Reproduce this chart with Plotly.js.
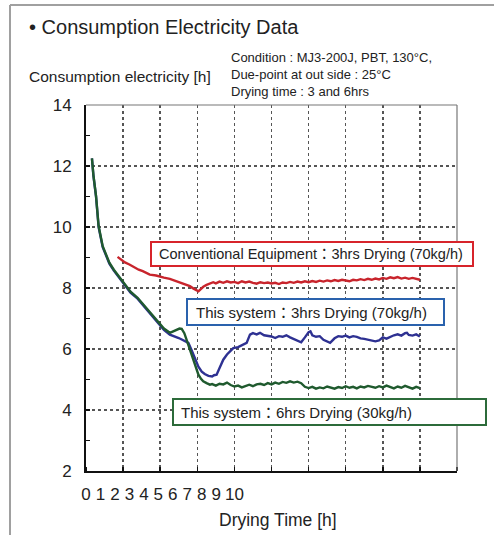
<!DOCTYPE html>
<html>
<head>
<meta charset="utf-8">
<script src="https://cdn.plot.ly/plotly-3.0.1.min.js"></script>
<style>html,body{margin:0;padding:0;background:#fff;}#chart{width:494px;height:535px;}</style>
</head>
<body>
<div id="chart"></div>
<script>
// ---- data ----
const xTickLabels = ['0','1','2','3','4','5','6','7','8','9','10'];
const yTickValues = [2,4,6,8,10,12,14];

const redX = [0.85,0.95,1.05,1.17,1.3,1.42,1.53,1.65,1.72,1.89,2.0,2.1,2.26,2.4,2.5,2.65,2.71,2.8,2.9,2.97,3.03,3.08,3.16,3.25,3.35,3.43,3.5,3.6,3.7,3.8,3.9,4.0,4.1,4.2,4.3,4.4,4.5,4.6,4.7,4.8,4.9,5.0,5.1,5.2,5.3,5.4,5.5,5.6,5.7,5.8,5.9,6.0,6.1,6.2,6.3,6.4,6.5,6.6,6.7,6.8,6.9,7.0,7.1,7.2,7.3,7.4,7.5,7.6,7.7,7.8,7.9,8.0,8.1,8.2,8.3,8.4,8.5,8.6,8.7,8.8,8.9,9.0];
const redY = [9.02,8.92,8.84,8.77,8.68,8.60,8.55,8.48,8.44,8.41,8.36,8.34,8.30,8.24,8.20,8.15,8.11,8.06,7.98,7.93,7.89,7.95,8.04,8.10,8.16,8.19,8.15,8.21,8.17,8.22,8.18,8.20,8.16,8.22,8.18,8.21,8.17,8.14,8.19,8.16,8.18,8.15,8.17,8.13,8.18,8.16,8.20,8.17,8.21,8.18,8.22,8.19,8.23,8.20,8.24,8.21,8.25,8.22,8.26,8.23,8.27,8.24,8.22,8.27,8.25,8.29,8.26,8.30,8.27,8.31,8.28,8.33,8.30,8.35,8.32,8.36,8.31,8.34,8.30,8.33,8.29,8.27];

const blueX = [0.16,0.2,0.27,0.34,0.45,0.55,0.63,0.75,0.85,0.95,1.08,1.2,1.39,1.55,1.72,1.85,1.99,2.1,2.26,2.4,2.5,2.58,2.68,2.76,2.85,2.94,3.03,3.12,3.2,3.3,3.4,3.45,3.52,3.6,3.7,3.8,3.9,3.97,4.1,4.24,4.33,4.42,4.5,4.6,4.69,4.8,4.9,5.0,5.1,5.2,5.3,5.4,5.5,5.6,5.7,5.8,5.9,6.0,6.05,6.1,6.2,6.3,6.4,6.5,6.58,6.7,6.8,6.9,7.0,7.1,7.2,7.3,7.4,7.5,7.6,7.7,7.8,7.9,8.0,8.1,8.2,8.3,8.4,8.5,8.6,8.65,8.7,8.8,8.9,9.0];
const blueY = [12.25,11.68,11.0,10.0,9.34,9.02,8.80,8.57,8.41,8.22,8.03,7.85,7.65,7.42,7.19,6.97,6.77,6.63,6.47,6.42,6.36,6.31,6.25,6.20,5.95,5.65,5.42,5.26,5.18,5.12,5.10,5.14,5.16,5.38,5.65,5.82,5.95,6.03,6.06,6.14,6.20,6.47,6.52,6.48,6.53,6.45,6.43,6.41,6.36,6.42,6.40,6.45,6.38,6.33,6.26,6.22,6.38,6.55,6.58,6.45,6.40,6.42,6.30,6.24,6.20,6.35,6.42,6.40,6.44,6.38,6.42,6.40,6.35,6.33,6.30,6.28,6.25,6.28,6.38,6.34,6.40,6.45,6.48,6.44,6.52,6.53,6.46,6.44,6.48,6.41];

const greenX = [0.16,0.2,0.27,0.34,0.45,0.55,0.63,0.75,0.85,0.95,1.08,1.2,1.39,1.55,1.72,1.85,1.99,2.1,2.26,2.35,2.44,2.52,2.58,2.65,2.71,2.8,2.89,2.96,3.03,3.1,3.16,3.25,3.34,3.4,3.5,3.6,3.7,3.8,3.9,4.0,4.1,4.2,4.3,4.4,4.5,4.6,4.7,4.8,4.9,5.0,5.1,5.2,5.3,5.4,5.5,5.6,5.7,5.8,5.9,6.0,6.1,6.2,6.3,6.4,6.5,6.6,6.7,6.8,6.9,7.0,7.1,7.2,7.3,7.4,7.5,7.6,7.7,7.8,7.9,8.0,8.1,8.2,8.3,8.4,8.5,8.6,8.7,8.8,8.9,9.0];
const greenY = [12.25,11.70,11.02,10.03,9.37,9.05,8.83,8.60,8.44,8.25,8.06,7.88,7.68,7.45,7.22,7.00,6.80,6.67,6.53,6.58,6.64,6.67,6.66,6.52,6.31,6.00,5.65,5.38,5.16,5.02,4.94,4.88,4.83,4.85,4.80,4.86,4.84,4.90,4.82,4.77,4.80,4.74,4.79,4.83,4.78,4.84,4.86,4.82,4.88,4.84,4.90,4.86,4.92,4.89,4.94,4.90,4.93,4.88,4.76,4.72,4.76,4.70,4.74,4.71,4.77,4.73,4.70,4.75,4.72,4.78,4.73,4.76,4.71,4.77,4.74,4.79,4.75,4.73,4.78,4.74,4.80,4.75,4.71,4.77,4.73,4.79,4.74,4.70,4.76,4.72];

const seriesNames = ['Conventional Equipment：3hrs Drying (70kg/h)','This system：3hrs Drying (70kg/h)','This system：6hrs Drying (30kg/h)'];
const chartTitle = '• Consumption Electricity Data';
const yTitle = 'Consumption electricity [h]';
const xTitle = 'Drying Time [h]';
const conditionText = 'Condition : MJ3-200J, PBT, 130°C,<br>Due-point at out side : 25°C<br>Drying time : 3 and 6hrs';

// ---- layout helpers (pixel -> paper) ----
const L = 86, R = 457, T = 105, B = 471;
const px = x => (x - L) / (R - L);
const py = y => (B - y) / (B - T);
const FONT = '"Liberation Sans", Arial, "Noto Sans CJK JP", sans-serif';

const traces = [
  {x: blueX, y: blueY, mode: 'lines', line: {color: '#2e3192', width: 2.4}, name: seriesNames[1], hoverinfo: 'skip'},
  {x: greenX, y: greenY, mode: 'lines', line: {color: '#1f5a2e', width: 2.4}, name: seriesNames[2], hoverinfo: 'skip'},
  {x: redX, y: redY, mode: 'lines', line: {color: '#c8242c', width: 2.4}, name: seriesNames[0], hoverinfo: 'skip'}
];

function box(x0, y0, x1, y1, color) {
  return {type: 'rect', xref: 'paper', yref: 'paper', x0: px(x0), x1: px(x1), y0: py(y1), y1: py(y0),
    fillcolor: '#ffffff', line: {color: color, width: 2}, layer: 'above'};
}
function label(x, y, text, size) {
  return {xref: 'paper', yref: 'paper', x: px(x), y: py(y), xanchor: 'left', yanchor: 'middle',
    text: text, showarrow: false, font: {family: FONT, size: size, color: '#222'}, align: 'left'};
}

const layout = {
  width: 494, height: 535,
  margin: {l: L, r: 494 - R, t: T, b: 535 - B, pad: 0},
  paper_bgcolor: '#ffffff', plot_bgcolor: '#ffffff',
  showlegend: false,
  font: {family: FONT, color: '#222'},
  xaxis: {
    range: [0, 10], tickmode: 'array',
    tickvals: xTickLabels.map((t, i) => i * 0.39 + (i === 10 ? 0.1 : 0)),
    ticktext: xTickLabels, ticks: '', showgrid: false, zeroline: false,
    tickfont: {family: FONT, size: 17, color: '#222'}, ticklabelstandoff: 7,
    showline: true, linecolor: '#111', linewidth: 2,
    minor: {tickmode: 'linear', tick0: 0, dtick: 1, ticks: 'inside', ticklen: 4, tickcolor: '#111', tickwidth: 1.5,
      showgrid: true, gridcolor: '#555', griddash: 'dot', gridwidth: 1.5}
  },
  yaxis: {
    range: [2, 14], tickmode: 'array', tickvals: yTickValues, ticks: 'inside', ticklen: 4, tickcolor: '#111', tickwidth: 1.5,
    showgrid: true, gridcolor: '#555', griddash: 'dot', gridwidth: 1.5, zeroline: false,
    tickfont: {family: FONT, size: 17, color: '#222'}, ticklabelstandoff: 9,
    showline: true, linecolor: '#111', linewidth: 2,
    minor: {tickmode: 'linear', tick0: 0, dtick: 1, ticks: 'inside', ticklen: 4, tickcolor: '#111', tickwidth: 1.5, showgrid: false}
  },
  shapes: [
    {type: 'line', xref: 'paper', yref: 'paper', x0: 0, x1: 1, y0: 1, y1: 1, line: {color: '#777', width: 1.2}, layer: 'above'},
    {type: 'line', xref: 'paper', yref: 'paper', x0: 1, x1: 1, y0: 0, y1: 1, line: {color: '#777', width: 1.2}, layer: 'above'},
    {type: 'line', xref: 'paper', yref: 'paper', x0: px(10), x1: px(494), y0: py(5), y1: py(5), line: {color: '#a0a0a0', width: 2}},
    {type: 'line', xref: 'paper', yref: 'paper', x0: px(10), x1: px(10), y0: py(5), y1: py(535), line: {color: '#a0a0a0', width: 2}},
    box(151, 242, 473, 266, '#d7242b'),
    box(187, 299, 444, 325, '#2a62ad'),
    box(173, 399, 486, 425, '#2c6b3a')
  ],
  annotations: [
    label(27, 27, chartTitle, 20),
    label(27, 77, yTitle, 15.5),
    {xref: 'paper', yref: 'paper', x: px(229), y: py(75), xanchor: 'left', yanchor: 'middle', text: conditionText,
      showarrow: false, align: 'left', font: {family: FONT, size: 13, color: '#222'}},
    {xref: 'paper', yref: 'paper', x: px(278), y: py(520), xanchor: 'center', yanchor: 'middle', text: xTitle,
      showarrow: false, font: {family: FONT, size: 17.5, color: '#222'}},
    label(157, 254, seriesNames[0], 14.5),
    label(194, 312, seriesNames[1], 15),
    label(179, 412, seriesNames[2], 15)
  ]
};

Plotly.newPlot('chart', traces, layout, {staticPlot: true, displayModeBar: false});
</script>
</body>
</html>
